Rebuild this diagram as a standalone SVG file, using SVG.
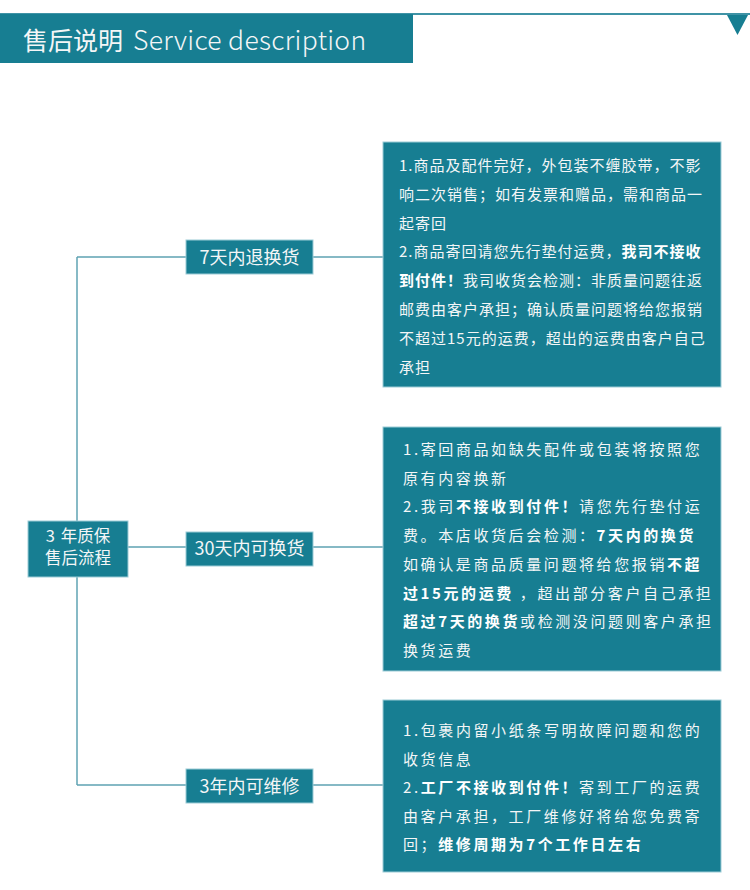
<svg xmlns="http://www.w3.org/2000/svg" width="750" height="890" viewBox="0 0 750 890">
<style>
text{font-family:"Noto Sans CJK SC","Noto Sans",sans-serif;fill:#f4f6f7}
.box{fill:#177e92;stroke:#9ccbd6;stroke-width:1}
.lbl{font-size:18px;text-anchor:middle}
.t1{font-size:15px;letter-spacing:1px}
.t2{font-size:15px;letter-spacing:2.6px}
.b{font-weight:bold;fill:#ffffff}
.conn{fill:none;stroke:#5fa3b3;stroke-width:1.5}
</style>
<rect width="750" height="890" fill="#ffffff"/>
<g id="header">
<line x1="0" y1="14" x2="750" y2="14" stroke="#3f93a6" stroke-width="2"/>
<rect x="0" y="14" width="413" height="49" fill="#177e92"/>
<polygon points="727,15 748,15 737.5,35" fill="#177e92"/>
<text x="23" y="50" font-size="25" font-weight="300"><tspan font-weight="400">售后说明</tspan><tspan dx="10" font-size="26.5" letter-spacing="0.3">Service description</tspan></text>
</g>
<g id="connectors">
<path class="conn" d="M77,257 V785"/>
<path class="conn" d="M77,257 H186 M313,257 H383"/>
<path class="conn" d="M128,547 H186 M313,547 H383"/>
<path class="conn" d="M77,785 H186 M313,785 H383"/>
</g>
<g id="root">
<rect class="box" x="28" y="521" width="100" height="56"/>
<text x="78" y="542" font-size="16.5" text-anchor="middle">3<tspan dx="6">年质保</tspan></text>
<text x="78" y="564" font-size="16.5" text-anchor="middle">售后流程</text>
</g>
<g id="label1">
<rect class="box" x="186" y="240" width="127" height="34"/>
<text class="lbl" x="249.5" y="264">7天内退换货</text>
</g>
<g id="label2">
<rect class="box" x="186" y="532" width="127" height="34"/>
<text class="lbl" x="249.5" y="555">30天内可换货</text>
</g>
<g id="label3">
<rect class="box" x="186" y="769" width="127" height="34"/>
<text class="lbl" x="249.5" y="793">3年内可维修</text>
</g>
<g id="detail1">
<rect class="box" x="383" y="142" width="338" height="245"/>
<text class="t1" x="399" y="171">1.商品及配件完好，外包装不缠胶带，不影</text>
<text class="t1" x="399" y="199.8">响二次销售；如有发票和赠品，需和商品一</text>
<text class="t1" x="399" y="228.6">起寄回</text>
<text class="t1" x="399" y="257.4">2.商品寄回请您先行垫付运费，<tspan class="b">我司不接收</tspan></text>
<text class="t1" x="399" y="286.2"><tspan class="b">到付件！</tspan>我司收货会检测：非质量问题往返</text>
<text class="t1" x="399" y="315">邮费由客户承担；确认质量问题将给您报销</text>
<text class="t1" x="399" y="343.8">不超过15元的运费，超出的运费由客户自己</text>
<text class="t1" x="399" y="372.6">承担</text>
</g>
<g id="detail2">
<rect class="box" x="383" y="427" width="338" height="244"/>
<text class="t2" x="403" y="455">1.寄回商品如缺失配件或包装将按照您</text>
<text class="t2" x="403" y="483.7">原有内容换新</text>
<text class="t2" x="403" y="512.4">2.我司<tspan class="b">不接收到付件！</tspan>请您先行垫付运</text>
<text class="t2" x="403" y="541.1">费。本店收货后会检测：<tspan class="b">7天内的换货</tspan></text>
<text class="t2" x="403" y="569.8">如确认是商品质量问题将给您报销<tspan class="b">不超</tspan></text>
<text class="t2" x="403" y="598.5"><tspan class="b">过15元的运费</tspan> ，超出部分客户自己承担</text>
<text class="t2" x="403" y="627.2"><tspan class="b">超过7天的换货</tspan>或检测没问题则客户承担</text>
<text class="t2" x="403" y="655.9">换货运费</text>
</g>
<g id="detail3">
<rect class="box" x="383" y="700" width="338" height="172"/>
<text class="t2" x="403" y="736">1.包裹内留小纸条写明故障问题和您的</text>
<text class="t2" x="403" y="764.6">收货信息</text>
<text class="t2" x="403" y="793.2">2.<tspan class="b">工厂不接收到付件！</tspan>寄到工厂的运费</text>
<text class="t2" x="403" y="821.8">由客户承担，工厂维修好将给您免费寄</text>
<text class="t2" x="403" y="850.4">回；<tspan class="b">维修周期为7个工作日左右</tspan></text>
</g>
</svg>
